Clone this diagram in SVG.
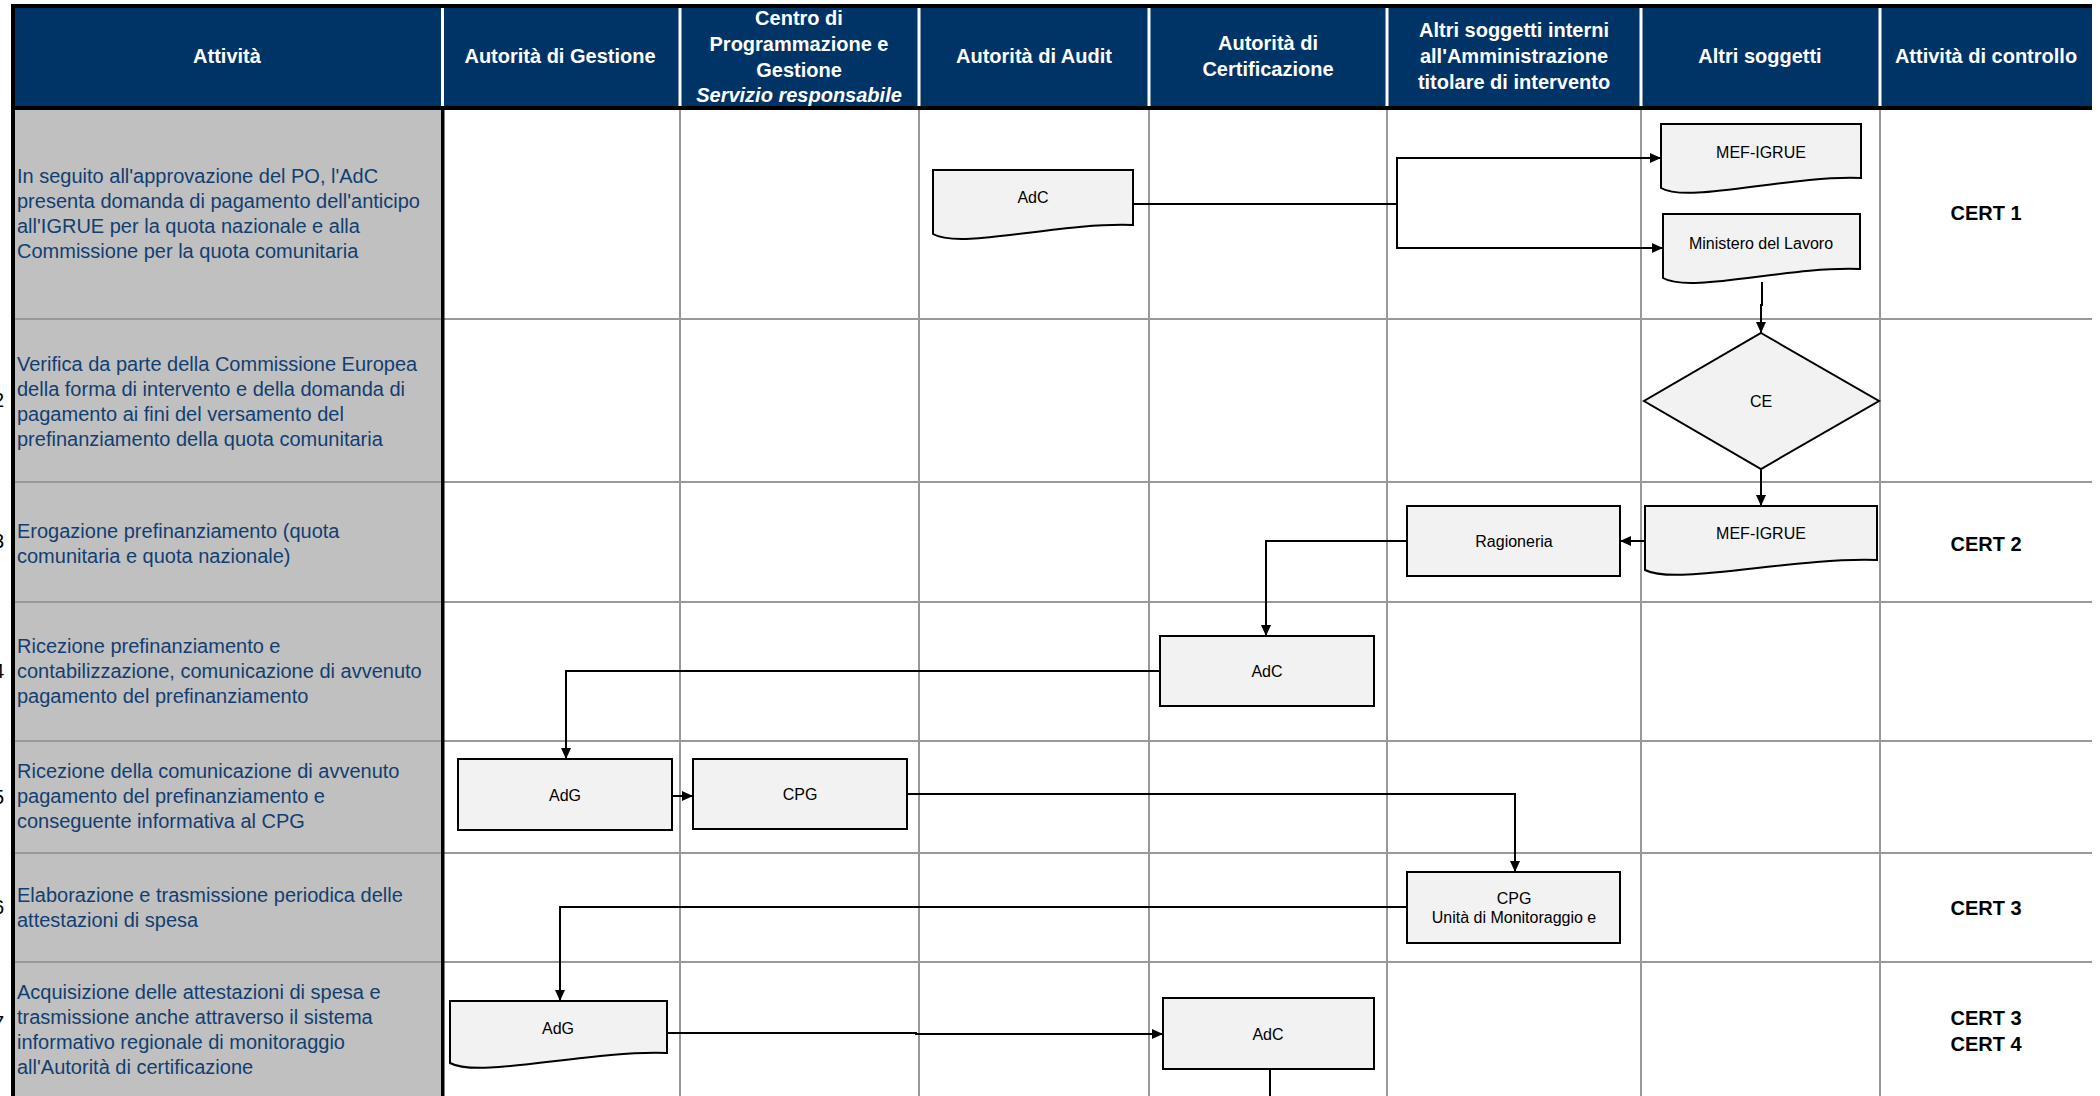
<svg xmlns="http://www.w3.org/2000/svg" width="2100" height="1096" viewBox="0 0 2100 1096">
<defs>
<style>
.hdr{font-family:"Liberation Sans",Arial,sans-serif;font-size:20px;font-weight:bold;fill:#fff;text-anchor:middle}
.act{font-family:"Liberation Sans",Arial,sans-serif;font-size:20px;fill:#133e70}
.num{font-family:"Liberation Sans",Arial,sans-serif;font-size:20px;fill:#000;text-anchor:end}
.cert{font-family:"Liberation Sans",Arial,sans-serif;font-size:20px;font-weight:bold;fill:#000;text-anchor:middle}
.nt{font-family:"Liberation Sans",Arial,sans-serif;font-size:16px;fill:#000;text-anchor:middle}
.box{fill:#f2f2f2;stroke:#000;stroke-width:2}
.grid{stroke:#999;stroke-width:2;fill:none}
.wsep{stroke:#fff;stroke-width:3}
.con{fill:none;stroke:#000;stroke-width:2}
</style>
<marker id="arr" markerUnits="userSpaceOnUse" markerWidth="11" markerHeight="10" refX="11" refY="5" orient="auto">
<path d="M0,0 L11,5 L0,10 Z" fill="#000"/>
</marker>
</defs>
<rect x="0" y="0" width="2100" height="1096" fill="#fff"/>
<g id="table">
<rect x="14" y="8" width="2078" height="98" fill="#003366"/>
<rect x="14" y="110" width="428" height="986" fill="#c0c0c0"/>
<g class="grid">
<path d="M14,319 H2092 M14,482 H2092 M14,602 H2092 M14,741 H2092 M14,853 H2092 M14,962 H2092"/>
<path d="M680,110 V1096 M919,110 V1096 M1149,110 V1096 M1387,110 V1096 M1641,110 V1096 M1880,110 V1096"/>
</g>
<g class="wsep">
<path d="M442.5,8 V106 M680,8 V106 M919,8 V106 M1149,8 V106 M1387,8 V106 M1641,8 V106 M1880,8 V106"/>
</g>
<rect x="11" y="4" width="2081" height="4" fill="#000"/>
<rect x="11" y="106" width="2081" height="4" fill="#000"/>
<rect x="11" y="4" width="4" height="1092" fill="#000"/>
<rect x="441" y="106" width="3.5" height="990" fill="#000"/>
</g>
<g id="header">
<text class="hdr" x="227" y="63">Attività</text>
<text class="hdr" x="560" y="63">Autorità di Gestione</text>
<text class="hdr" x="799" y="25">Centro di</text>
<text class="hdr" x="799" y="51">Programmazione e</text>
<text class="hdr" x="799" y="77">Gestione</text>
<text class="hdr" x="799" y="102" font-style="italic">Servizio responsabile</text>
<text class="hdr" x="1034" y="63">Autorità di Audit</text>
<text class="hdr" x="1268" y="50">Autorità di</text>
<text class="hdr" x="1268" y="76">Certificazione</text>
<text class="hdr" x="1514" y="37">Altri soggetti interni</text>
<text class="hdr" x="1514" y="63">all'Amministrazione</text>
<text class="hdr" x="1514" y="89">titolare di intervento</text>
<text class="hdr" x="1760" y="63">Altri soggetti</text>
<text class="hdr" x="1986" y="63">Attività di controllo</text>
</g>
<g id="activities">
<text class="num" x="4" y="407">2</text>
<text class="num" x="4" y="548">3</text>
<text class="num" x="4" y="678">4</text>
<text class="num" x="4" y="804">5</text>
<text class="num" x="4" y="914">6</text>
<text class="num" x="4" y="1030">7</text>
<text class="act" x="17" y="183">In seguito all'approvazione del PO, l'AdC</text>
<text class="act" x="17" y="208">presenta domanda di pagamento dell'anticipo</text>
<text class="act" x="17" y="233">all'IGRUE per la quota nazionale e alla</text>
<text class="act" x="17" y="258">Commissione per la quota comunitaria</text>
<text class="act" x="17" y="371">Verifica da parte della Commissione Europea</text>
<text class="act" x="17" y="396">della forma di intervento e della domanda di</text>
<text class="act" x="17" y="421">pagamento ai fini del versamento del</text>
<text class="act" x="17" y="446">prefinanziamento della quota comunitaria</text>
<text class="act" x="17" y="538">Erogazione prefinanziamento (quota</text>
<text class="act" x="17" y="563">comunitaria e quota nazionale)</text>
<text class="act" x="17" y="653">Ricezione prefinanziamento e</text>
<text class="act" x="17" y="678">contabilizzazione, comunicazione di avvenuto</text>
<text class="act" x="17" y="703">pagamento del prefinanziamento</text>
<text class="act" x="17" y="778">Ricezione della comunicazione di avvenuto</text>
<text class="act" x="17" y="803">pagamento del prefinanziamento e</text>
<text class="act" x="17" y="828">conseguente informativa al CPG</text>
<text class="act" x="17" y="902">Elaborazione e trasmissione periodica delle</text>
<text class="act" x="17" y="927">attestazioni di spesa</text>
<text class="act" x="17" y="999">Acquisizione delle attestazioni di spesa e</text>
<text class="act" x="17" y="1024">trasmissione anche attraverso il sistema</text>
<text class="act" x="17" y="1049">informativo regionale di monitoraggio</text>
<text class="act" x="17" y="1074">all'Autorità di certificazione</text>
</g>
<g id="controls">
<text class="cert" x="1986" y="220">CERT 1</text>
<text class="cert" x="1986" y="551">CERT 2</text>
<text class="cert" x="1986" y="915">CERT 3</text>
<text class="cert" x="1986" y="1025">CERT 3</text>
<text class="cert" x="1986" y="1051">CERT 4</text>
</g>
<g id="connectors">
<path class="con" d="M1133,204 H1397 V158 H1661" marker-end="url(#arr)"/>
<path class="con" d="M1397,204 V248 H1663" marker-end="url(#arr)"/>
<path class="con" d="M1762,282 V305 H1761 V333" marker-end="url(#arr)"/>
<path class="con" d="M1761,469 V506" marker-end="url(#arr)"/>
<path class="con" d="M1645,541 H1620" marker-end="url(#arr)"/>
<path class="con" d="M1407,541 H1266 V636" marker-end="url(#arr)"/>
<path class="con" d="M1160,671 H566 V759" marker-end="url(#arr)"/>
<path class="con" d="M672,796 H693" marker-end="url(#arr)"/>
<path class="con" d="M907,794 H1515 V872" marker-end="url(#arr)"/>
<path class="con" d="M1407,907 H560 V1001" marker-end="url(#arr)"/>
<path class="con" d="M667,1033 H916 V1034 H1163" marker-end="url(#arr)"/>
<path class="con" d="M1270,1069 V1096"/>
</g>
<g id="n-adc1">
<path class="box" d="M933,170 H1133 V225 C1060,222 960,250 933,234 Z"/>
<text class="nt" x="1033" y="203">AdC</text>
</g>
<g id="n-mef1">
<path class="box" d="M1661,124 H1861 V178 C1788,175 1688,204 1661,188 Z"/>
<text class="nt" x="1761" y="158">MEF-IGRUE</text>
</g>
<g id="n-min">
<path class="box" d="M1663,214 H1860 V269 C1788,266 1690,294 1663,278 Z"/>
<text class="nt" x="1761" y="249">Ministero del Lavoro</text>
</g>
<g id="n-ce">
<path class="box" d="M1761,333 L1879,401 L1761,469 L1644,401 Z"/>
<text class="nt" x="1761" y="407">CE</text>
</g>
<g id="n-mef2">
<path class="box" d="M1645,506 H1877 V560 C1792,557 1676,586 1645,570 Z"/>
<text class="nt" x="1761" y="539">MEF-IGRUE</text>
</g>
<g id="n-rag">
<rect class="box" x="1407" y="506" width="213" height="70"/>
<text class="nt" x="1514" y="547">Ragioneria</text>
</g>
<g id="n-adc2">
<rect class="box" x="1160" y="636" width="214" height="70"/>
<text class="nt" x="1267" y="677">AdC</text>
</g>
<g id="n-adg1">
<rect class="box" x="458" y="759" width="214" height="71"/>
<text class="nt" x="565" y="801">AdG</text>
</g>
<g id="n-cpg1">
<rect class="box" x="693" y="759" width="214" height="70"/>
<text class="nt" x="800" y="800">CPG</text>
</g>
<g id="n-cpg2">
<rect class="box" x="1407" y="872" width="213" height="71"/>
<text class="nt" x="1514" y="904">CPG</text>
<text class="nt" x="1514" y="923">Unità di Monitoraggio e</text>
</g>
<g id="n-adg2">
<path class="box" d="M450,1001 H667 V1053 C588,1050 479,1079 450,1063 Z"/>
<text class="nt" x="558" y="1034">AdG</text>
</g>
<g id="n-adc3">
<rect class="box" x="1163" y="998" width="211" height="71"/>
<text class="nt" x="1268" y="1040">AdC</text>
</g>
</svg>
